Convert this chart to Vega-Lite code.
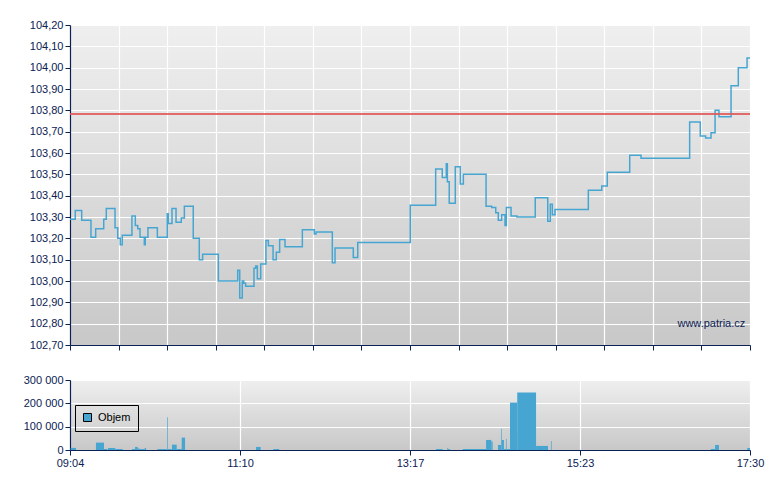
{
  "$schema": "https://vega.github.io/schema/vega-lite/v6.json",
  "padding": {"left": 23, "top": 19, "right": 5, "bottom": 5},
  "background": "white",
  "spacing": 35,
  "bounds": "flush",
  "config": {
    "view": {"stroke": null, "fill": {"gradient": "linear", "x1": 0, "y1": 0, "x2": 0, "y2": 1, "stops": [{"offset": 0, "color": "#efefef"}, {"offset": 1, "color": "#c8c8c8"}]}},
    "axis": {
      "domainColor": "#0b2153", "tickColor": "#0b2153", "labelColor": "#0b2153",
      "labelFont": "Liberation Sans", "labelFontSize": 11, "gridColor": "#ffffff", "gridOpacity": 1, "gridWidth": 1.2,
      "tickSize": 5, "labelPadding": 2, "title": null, "domainWidth": 1.2, "tickWidth": 1, "labelOverlap": false
    },
    "axisY": {"labelOverlap": false},
    "axisQuantitative": {"labelOverlap": false},
    "legend": {"labelFont": "Liberation Sans", "labelFontSize": 11, "labelColor": "#000000"}
  },
  "datasets": {
    "price": [
      {"t": 544.0, "p": 103.29}, {"t": 547.9, "p": 103.33}, {"t": 552.7, "p": 103.285}, {"t": 559.6, "p": 103.205},
      {"t": 563.1, "p": 103.245}, {"t": 569.1, "p": 103.29}, {"t": 571.0, "p": 103.34}, {"t": 577.5, "p": 103.25},
      {"t": 579.5, "p": 103.20}, {"t": 581.4, "p": 103.17}, {"t": 582.9, "p": 103.215}, {"t": 590.1, "p": 103.305},
      {"t": 592.6, "p": 103.26}, {"t": 594.4, "p": 103.245}, {"t": 596.1, "p": 103.205}, {"t": 599.3, "p": 103.17},
      {"t": 600.0, "p": 103.205}, {"t": 602.0, "p": 103.25}, {"t": 609.0, "p": 103.205}, {"t": 616.4, "p": 103.315},
      {"t": 617.1, "p": 103.27}, {"t": 619.9, "p": 103.34}, {"t": 622.9, "p": 103.275}, {"t": 626.8, "p": 103.295},
      {"t": 629.1, "p": 103.35}, {"t": 635.7, "p": 103.20}, {"t": 640.2, "p": 103.10}, {"t": 642.7, "p": 103.125},
      {"t": 654.4, "p": 103.00}, {"t": 668.8, "p": 103.05}, {"t": 670.3, "p": 102.92}, {"t": 672.2, "p": 103.00},
      {"t": 673.3, "p": 102.99}, {"t": 674.7, "p": 102.975}, {"t": 680.9, "p": 103.06}, {"t": 682.2, "p": 103.07},
      {"t": 683.4, "p": 103.01}, {"t": 685.9, "p": 103.08}, {"t": 689.8, "p": 103.19}, {"t": 691.6, "p": 103.165},
      {"t": 695.1, "p": 103.10}, {"t": 697.5, "p": 103.135}, {"t": 700.0, "p": 103.195}, {"t": 704.0, "p": 103.16},
      {"t": 716.9, "p": 103.24}, {"t": 725.8, "p": 103.22}, {"t": 727.1, "p": 103.23}, {"t": 739.2, "p": 103.085},
      {"t": 741.2, "p": 103.155}, {"t": 754.8, "p": 103.11}, {"t": 758.1, "p": 103.18}, {"t": 797.2, "p": 103.355},
      {"t": 816.1, "p": 103.525}, {"t": 821.0, "p": 103.485}, {"t": 824.0, "p": 103.55}, {"t": 824.8, "p": 103.465},
      {"t": 826.2, "p": 103.365}, {"t": 830.7, "p": 103.535}, {"t": 834.4, "p": 103.455}, {"t": 836.7, "p": 103.50},
      {"t": 853.6, "p": 103.35}, {"t": 857.8, "p": 103.345}, {"t": 860.8, "p": 103.32}, {"t": 862.7, "p": 103.285},
      {"t": 865.2, "p": 103.31}, {"t": 867.7, "p": 103.26}, {"t": 868.7, "p": 103.345}, {"t": 872.2, "p": 103.305},
      {"t": 876.6, "p": 103.30}, {"t": 890.2, "p": 103.39}, {"t": 899.5, "p": 103.28}, {"t": 901.4, "p": 103.36},
      {"t": 902.9, "p": 103.31}, {"t": 904.9, "p": 103.335}, {"t": 929.7, "p": 103.425}, {"t": 939.7, "p": 103.445},
      {"t": 943.8, "p": 103.51}, {"t": 960.5, "p": 103.59}, {"t": 968.9, "p": 103.575}, {"t": 1005.1, "p": 103.745},
      {"t": 1013.0, "p": 103.68}, {"t": 1017.0, "p": 103.67}, {"t": 1021.0, "p": 103.695}, {"t": 1024.0, "p": 103.80},
      {"t": 1026.9, "p": 103.77}, {"t": 1035.9, "p": 103.915}, {"t": 1041.3, "p": 104.00}, {"t": 1047.8, "p": 104.045},
      {"t": 1050.0, "p": 104.045}
    ],
    "volume": [
      {"t0": 544.5, "t1": 548.5, "v": 9000}, {"t0": 563.3, "t1": 569.3, "v": 31700}, {"t0": 569.3, "t1": 571.8, "v": 4300},
      {"t0": 572.3, "t1": 577.7, "v": 8700}, {"t0": 577.7, "t1": 583.2, "v": 4300}, {"t0": 590.1, "t1": 592.4, "v": 4000},
      {"t0": 592.4, "t1": 594.4, "v": 13000}, {"t0": 594.4, "t1": 595.6, "v": 7000}, {"t0": 595.6, "t1": 599.6, "v": 4000},
      {"t0": 599.6, "t1": 600.6, "v": 9000}, {"t0": 609.0, "t1": 616.0, "v": 4000}, {"t0": 616.2, "t1": 616.7, "v": 140000},
      {"t0": 616.7, "t1": 619.7, "v": 4000}, {"t0": 619.9, "t1": 623.4, "v": 23000}, {"t0": 623.4, "t1": 627.1, "v": 4300},
      {"t0": 627.1, "t1": 629.6, "v": 53000}, {"t0": 682.4, "t1": 685.9, "v": 13000}, {"t0": 695.3, "t1": 699.7, "v": 4300},
      {"t0": 816.3, "t1": 821.3, "v": 4300}, {"t0": 824.8, "t1": 825.3, "v": 8700}, {"t0": 825.3, "t1": 826.8, "v": 4000},
      {"t0": 836.2, "t1": 853.6, "v": 4300}, {"t0": 853.6, "t1": 857.5, "v": 43000}, {"t0": 857.5, "t1": 858.5, "v": 36000},
      {"t0": 862.5, "t1": 864.7, "v": 21600}, {"t0": 864.7, "t1": 865.2, "v": 91000}, {"t0": 865.2, "t1": 866.9, "v": 43000},
      {"t0": 866.9, "t1": 868.4, "v": 4300}, {"t0": 868.4, "t1": 868.9, "v": 47600}, {"t0": 868.9, "t1": 871.4, "v": 4300},
      {"t0": 871.4, "t1": 876.8, "v": 203000}, {"t0": 876.8, "t1": 890.8, "v": 246000}, {"t0": 890.8, "t1": 899.7, "v": 17300},
      {"t0": 901.9, "t1": 902.4, "v": 39000}, {"t0": 1020.8, "t1": 1024.0, "v": 4300}, {"t0": 1024.0, "t1": 1026.9, "v": 21600},
      {"t0": 1048.0, "t1": 1050.0, "v": 8700}
    ]
  },
  "vconcat": [
    {
      "width": 680,
      "height": 320,
      "layer": [
        {
          "data": {"name": "price"},
          "mark": {"type": "line", "interpolate": "step-after", "color": "#47a6d1", "strokeWidth": 1.5},
          "encoding": {
            "x": {"field": "t", "type": "quantitative",
                  "scale": {"domain": [544, 1050], "nice": false, "zero": false},
                  "axis": {"values": [544, 580.142857, 616.285714, 652.428571, 688.571429, 724.714286, 760.857143, 797, 833.142857, 869.285714, 905.428571, 941.571429, 977.714286, 1013.857143, 1050], "labels": false, "grid": true}},
            "y": {"field": "p", "type": "quantitative",
                  "scale": {"domain": [102.7, 104.2], "nice": false, "zero": false},
                  "axis": {"values": [102.7, 102.8, 102.9, 103.0, 103.1, 103.2, 103.3, 103.4, 103.5, 103.6, 103.7, 103.8, 103.9, 104.0, 104.1, 104.2],
                           "labelOverlap": false, "labelBound": false,
                           "labelExpr": "replace(format(datum.value, '.2f'), '.', ',')", "grid": true}}
          }
        },
        {
          "data": {"values": [{"r": 103.783}]},
          "mark": {"type": "rule", "color": "#e05555", "strokeWidth": 2, "opacity": 0.85},
          "encoding": {"y": {"field": "r", "type": "quantitative",
                  "axis": {"values": [102.7, 102.8, 102.9, 103.0, 103.1, 103.2, 103.3, 103.4, 103.5, 103.6, 103.7, 103.8, 103.9, 104.0, 104.1, 104.2],
                           "labelOverlap": false, "labelBound": false,
                           "labelExpr": "replace(format(datum.value, '.2f'), '.', ',')", "grid": true}}}
        },
        {
          "data": {"values": [{"label": "www.patria.cz"}]},
          "mark": {"type": "text", "align": "right", "baseline": "middle", "font": "Liberation Sans", "fontSize": 11, "color": "#0b2153"},
          "encoding": {
            "x": {"datum": 1046.5, "type": "quantitative",
                  "axis": {"values": [544, 580.142857, 616.285714, 652.428571, 688.571429, 724.714286, 760.857143, 797, 833.142857, 869.285714, 905.428571, 941.571429, 977.714286, 1013.857143, 1050], "labels": false, "grid": true}},
            "y": {"datum": 102.8, "type": "quantitative",
                  "axis": {"values": [102.7, 102.8, 102.9, 103.0, 103.1, 103.2, 103.3, 103.4, 103.5, 103.6, 103.7, 103.8, 103.9, 104.0, 104.1, 104.2],
                           "labelOverlap": false, "labelBound": false,
                           "labelExpr": "replace(format(datum.value, '.2f'), '.', ',')", "grid": true}},
            "text": {"field": "label"}
          }
        }
      ]
    },
    {
      "width": 680,
      "height": 70,
      "data": {"name": "volume"},
      "mark": {"type": "rect"},
      "encoding": {
        "x": {"field": "t0", "type": "quantitative",
              "scale": {"domain": [544, 1050], "nice": false, "zero": false},
              "axis": {"values": [544, 670.5, 797, 923.5, 1050], "grid": true, "labelFlush": false, "labelOverlap": false,
                       "labelExpr": "(floor(datum.value/60) < 10 ? '0' : '') + floor(datum.value/60) + ':' + (floor(datum.value%60) < 10 ? '0' : '') + floor(datum.value%60)"}},
        "x2": {"field": "t1"},
        "y": {"field": "v", "type": "quantitative",
              "scale": {"domain": [0, 300000], "nice": false},
              "axis": {"values": [0, 100000, 200000, 300000], "grid": true, "labelOverlap": false,
                       "labelExpr": "replace(format(datum.value, ','), ',', ' ')"}},
        "y2": {"datum": 0},
        "color": {"datum": "Objem", "type": "nominal", "scale": {"range": ["#47a6d1"]},
                  "legend": {"title": null, "orient": "none", "legendX": 5, "legendY": 380,
                             "strokeColor": "#000000", "padding": 7, "symbolType": "square", "symbolSize": 64,
                             "symbolStrokeColor": "#000000", "symbolStrokeWidth": 1, "labelOffset": 5}}
      }
    }
  ]
}
